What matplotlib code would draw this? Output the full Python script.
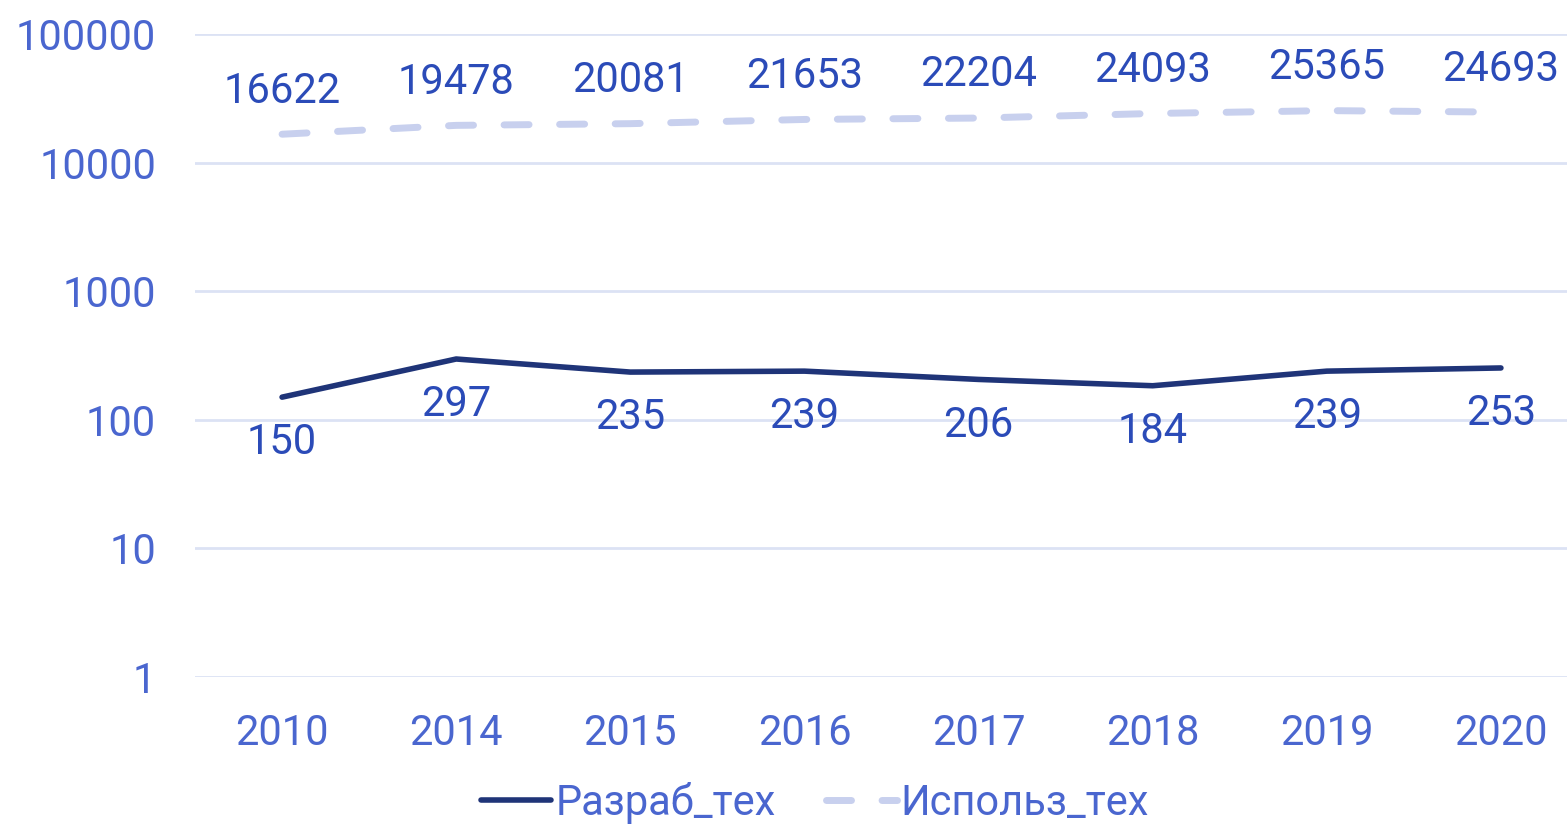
import numpy as np
import matplotlib
matplotlib.use('Agg')
import matplotlib.pyplot as plt
from matplotlib.ticker import FixedLocator, FixedFormatter

plt.rcParams['font.family'] = ['Roboto', 'DejaVu Sans']

years = ['2010', '2014', '2015', '2016', '2017', '2018', '2019', '2020']
razrab = [150, 297, 235, 239, 206, 184, 239, 253]
ispolz = [16622, 19478, 20081, 21653, 22204, 24093, 25365, 24693]
yticks = [1, 10, 100, 1000, 10000, 100000]

tick_c = '#4a66cf'
lab_c = '#2b4bb8'
dark = '#1f3478'
light = '#c8d0ee'
grid_c = '#dce2f4'

fig = plt.figure(figsize=(15.67, 8.24), dpi=100)
ax = fig.add_axes([195 / 1567, 1 - 677 / 824, (1588 - 195) / 1567, (677 - 34) / 824])

x = np.arange(len(years))
ax.plot(x, razrab, color=dark, lw=4, solid_capstyle='round', label='Разраб_тех')
ax.plot(x, ispolz, color=light, lw=5, dashes=(3.6, 4.4), dash_capstyle='round', label='Использ_тех')

for xi, v in zip(x, razrab):
    ax.annotate(str(v), (xi, v), xytext=(0, -33), textcoords='offset points',
                ha='center', va='center', fontsize=30, color=lab_c)
for xi, v in zip(x, ispolz):
    ax.annotate(str(v), (xi, v), xytext=(0, 31), textcoords='offset points',
                ha='center', va='center', fontsize=30, color=lab_c)

ax.set_yscale('log')
ax.set_ylim(1, 100000)
ax.set_xlim(-0.5, 7.5)
ax.yaxis.set_major_locator(FixedLocator(yticks))
ax.yaxis.set_major_formatter(FixedFormatter([str(t) for t in yticks]))
ax.yaxis.set_minor_locator(FixedLocator([]))
ax.set_xticks(x)
ax.set_xticklabels(years)
ax.tick_params(axis='both', length=0, labelsize=30, labelcolor=tick_c)
ax.tick_params(axis='y', pad=28)
ax.tick_params(axis='x', pad=26)
ax.grid(axis='y', color=grid_c, lw=2)
for s in ax.spines.values():
    s.set_visible(False)

leg = fig.legend(loc='center', bbox_to_anchor=(0.52, 1 - 803 / 824), ncol=2, frameon=False,
                 fontsize=30, labelcolor=tick_c, handlelength=1.7, handletextpad=0.1,
                 columnspacing=1.2)

fig.savefig('out.png', dpi=100)
